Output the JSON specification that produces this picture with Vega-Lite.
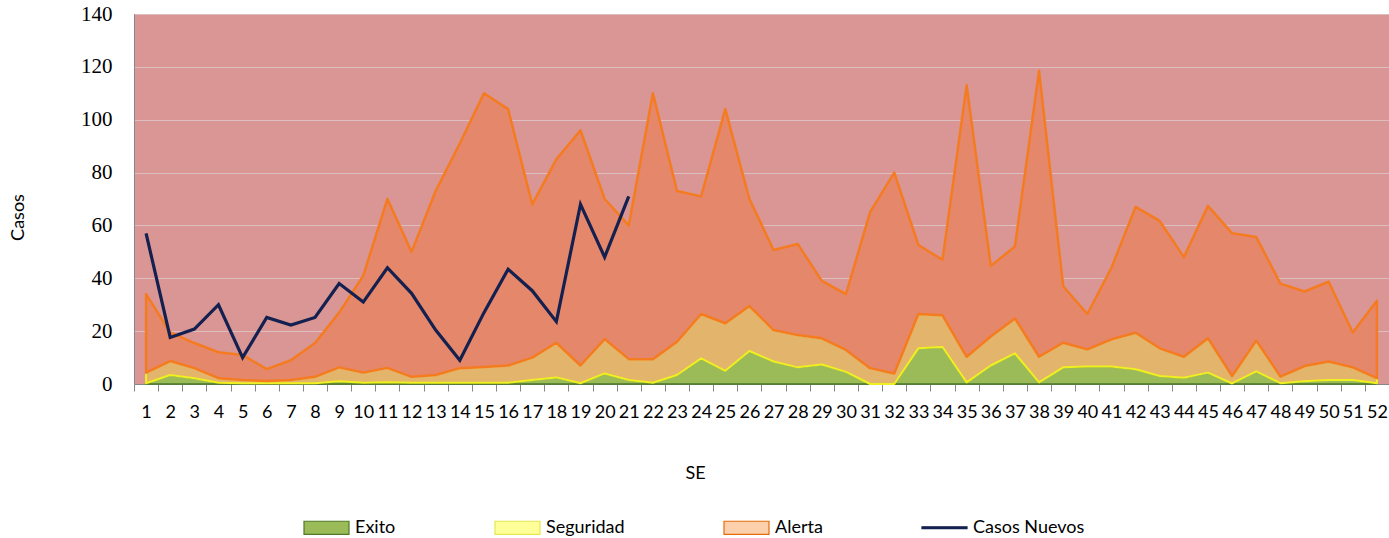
{
  "$schema": "https://vega.github.io/schema/vega-lite/v6.json",
  "width": 1255,
  "height": 370,
  "autosize": "none",
  "padding": {"left": 134, "top": 14, "right": 0, "bottom": 154},
  "background": "white",
  "view": {"fill": "#D99694", "stroke": null},
  "config": {"font": "Lato"},
  "data": {
    "values": [
      {"SE": 1, "exito": 0.3, "seg": 4.3, "ale": 34, "casos": 57},
      {"SE": 2, "exito": 3.4, "seg": 8.7, "ale": 19.5, "casos": 17.6},
      {"SE": 3, "exito": 2.2, "seg": 6, "ale": 15.5, "casos": 20.8},
      {"SE": 4, "exito": 0.5, "seg": 2.2, "ale": 12, "casos": 30},
      {"SE": 5, "exito": 0.3, "seg": 1.5, "ale": 11, "casos": 10},
      {"SE": 6, "exito": 0.3, "seg": 1.1, "ale": 5.6, "casos": 25.2},
      {"SE": 7, "exito": 0.3, "seg": 1.5, "ale": 9, "casos": 22.3},
      {"SE": 8, "exito": 0.3, "seg": 2.7, "ale": 15.5, "casos": 25.2},
      {"SE": 9, "exito": 1, "seg": 6.3, "ale": 27, "casos": 38},
      {"SE": 10, "exito": 0.5, "seg": 4.3, "ale": 41, "casos": 31},
      {"SE": 11, "exito": 0.7, "seg": 6.1, "ale": 70, "casos": 44},
      {"SE": 12, "exito": 0.5, "seg": 2.7, "ale": 50, "casos": 34.3},
      {"SE": 13, "exito": 0.5, "seg": 3.4, "ale": 73, "casos": 20.4},
      {"SE": 14, "exito": 0.5, "seg": 6, "ale": 91, "casos": 9},
      {"SE": 15, "exito": 0.5, "seg": 6.4, "ale": 110, "casos": 27},
      {"SE": 16, "exito": 0.5, "seg": 7, "ale": 104, "casos": 43.4},
      {"SE": 17, "exito": 1.5, "seg": 10, "ale": 68, "casos": 35.3},
      {"SE": 18, "exito": 2.5, "seg": 15.6, "ale": 85, "casos": 23.6},
      {"SE": 19, "exito": 0.3, "seg": 7, "ale": 96, "casos": 68},
      {"SE": 20, "exito": 4, "seg": 17, "ale": 70, "casos": 48},
      {"SE": 21, "exito": 1.5, "seg": 9.4, "ale": 60, "casos": 71},
      {"SE": 22, "exito": 0.5, "seg": 9.4, "ale": 110},
      {"SE": 23, "exito": 3.4, "seg": 16, "ale": 73},
      {"SE": 24, "exito": 9.7, "seg": 26.5, "ale": 71},
      {"SE": 25, "exito": 5, "seg": 23, "ale": 104},
      {"SE": 26, "exito": 12.5, "seg": 29.5, "ale": 70},
      {"SE": 27, "exito": 8.5, "seg": 20.4, "ale": 50.7},
      {"SE": 28, "exito": 6.3, "seg": 18.5, "ale": 53},
      {"SE": 29, "exito": 7.4, "seg": 17.3, "ale": 39},
      {"SE": 30, "exito": 4.6, "seg": 12.9, "ale": 34},
      {"SE": 31, "exito": 0, "seg": 6, "ale": 65},
      {"SE": 32, "exito": 0, "seg": 4, "ale": 80},
      {"SE": 33, "exito": 13.5, "seg": 26.5, "ale": 52.6},
      {"SE": 34, "exito": 14, "seg": 26, "ale": 47},
      {"SE": 35, "exito": 0.6, "seg": 10.3, "ale": 113},
      {"SE": 36, "exito": 7, "seg": 18, "ale": 44.7},
      {"SE": 37, "exito": 11.6, "seg": 24.8, "ale": 52},
      {"SE": 38, "exito": 0.6, "seg": 10.3, "ale": 118.5},
      {"SE": 39, "exito": 6.3, "seg": 15.6, "ale": 37},
      {"SE": 40, "exito": 6.6, "seg": 13.1, "ale": 26.5},
      {"SE": 41, "exito": 6.6, "seg": 16.9, "ale": 44},
      {"SE": 42, "exito": 5.6, "seg": 19.4, "ale": 67},
      {"SE": 43, "exito": 3, "seg": 13.5, "ale": 61.7},
      {"SE": 44, "exito": 2.4, "seg": 10.3, "ale": 48},
      {"SE": 45, "exito": 4.3, "seg": 17.3, "ale": 67.4},
      {"SE": 46, "exito": 0.2, "seg": 3, "ale": 57},
      {"SE": 47, "exito": 4.8, "seg": 16.4, "ale": 55.6},
      {"SE": 48, "exito": 0.3, "seg": 2.8, "ale": 38},
      {"SE": 49, "exito": 1, "seg": 6.8, "ale": 35},
      {"SE": 50, "exito": 1.5, "seg": 8.5, "ale": 38.7},
      {"SE": 51, "exito": 1.5, "seg": 6.3, "ale": 19.5},
      {"SE": 52, "exito": 0.3, "seg": 2.2, "ale": 31.5}
    ]
  },
  "encoding": {
    "x": {
      "field": "SE",
      "type": "ordinal",
      "bandPosition": 0.5,
      "scale": {"type": "band", "paddingInner": 0, "paddingOuter": 0},
      "axis": {
        "title": "SE",
        "titleFont": "Lato",
        "titleFontSize": 18,
        "titleFontWeight": "normal",
        "titleColor": "#000000",
        "titleX": 561,
        "titleY": 89,
        "titleBaseline": "middle",
        "labelAngle": 0,
        "labelFont": "Lato",
        "labelFontSize": 18,
        "labelColor": "#000000",
        "labelPadding": 12,
        "labelOverlap": false,
        "labelBound": false,
        "tickBand": "extent",
        "tickSize": 7,
        "tickColor": "#868686",
        "domainColor": "#868686",
        "grid": false
      }
    }
  },
  "layer": [
    {
      "mark": {"type": "area", "fill": "#9BBB59", "stroke": "#4A7A2A", "strokeWidth": 1.5, "strokeJoin": "round"},
      "encoding": {
        "y": {
          "field": "exito",
          "type": "quantitative",
          "scale": {"domain": [0, 140], "nice": false},
          "axis": {
            "values": [0, 20, 40, 60, 80, 100, 120, 140],
            "title": "Casos",
            "titleFont": "Lato",
            "titleFontSize": 18,
            "titleFontWeight": "normal",
            "titleColor": "#000000",
            "titleX": -116,
            "titleY": 203,
            "titleAngle": -90,
            "titleAlign": "center",
            "titleBaseline": "middle",
            "labelFont": "Liberation Serif",
            "labelFontSize": 21,
            "labelColor": "#000000",
            "labelPadding": 22,
            "ticks": false,
            "domainColor": "#868686",
            "grid": true,
            "gridColor": "#DDBDBD",
            "gridWidth": 1
          }
        }
      }
    },
    {
      "mark": {"type": "area", "fill": "#E3B46B", "stroke": "#F0F020", "strokeWidth": 2, "strokeJoin": "round"},
      "encoding": {
        "y": {"field": "exito", "type": "quantitative"},
        "y2": {"field": "seg"}
      }
    },
    {
      "mark": {"type": "area", "fill": "#E5876A", "stroke": "#F57B20", "strokeWidth": 2.5, "strokeJoin": "round"},
      "encoding": {
        "y": {"field": "seg", "type": "quantitative"},
        "y2": {"field": "ale"}
      }
    },
    {
      "mark": {"type": "line", "color": "#14204F", "strokeWidth": 3.2, "strokeJoin": "miter"},
      "encoding": {
        "y": {"field": "casos", "type": "quantitative"}
      }
    },
    {
      "data": {"values": []},
      "mark": {"type": "point", "filled": true, "opacity": 1, "strokeWidth": 1.2, "size": 2025},
      "encoding": {
        "fill": {
          "field": "serie",
          "type": "nominal",
          "scale": {
            "domain": ["Exito", "Seguridad", "Alerta", "Casos Nuevos"],
            "range": ["#9BBB59", "#FFFF99", "#FCD0AC", "#14204F"]
          },
          "legend": {
            "title": null,
            "orient": "none",
            "direction": "horizontal",
            "legendX": 169,
            "legendY": 490,
            "padding": 0,
            "labelFont": "Lato",
            "labelFontSize": 18,
            "labelColor": "#000000",
            "labelOffset": 5,
            "columnPadding": 96,
            "symbolSize": 2025,
            "symbolStrokeWidth": 1.2,
            "symbolOpacity": 1
          }
        },
        "stroke": {
          "field": "serie",
          "type": "nominal",
          "scale": {
            "domain": ["Exito", "Seguridad", "Alerta", "Casos Nuevos"],
            "range": ["#4F7A28", "#E6E650", "#E46C0A", "#14204F"]
          },
          "legend": {
            "title": null,
            "orient": "none",
            "direction": "horizontal",
            "legendX": 169,
            "legendY": 490,
            "padding": 0,
            "labelFont": "Lato",
            "labelFontSize": 18,
            "labelColor": "#000000",
            "labelOffset": 5,
            "columnPadding": 96,
            "symbolSize": 2025,
            "symbolStrokeWidth": 1.2,
            "symbolOpacity": 1
          }
        },
        "shape": {
          "field": "serie",
          "type": "nominal",
          "scale": {
            "domain": ["Exito", "Seguridad", "Alerta", "Casos Nuevos"],
            "range": ["M-1,-0.29H1V0.29H-1Z", "M-1,-0.29H1V0.29H-1Z", "M-1,-0.29H1V0.29H-1Z", "M-1,-0.04H1V0.04H-1Z"]
          },
          "legend": {
            "title": null,
            "orient": "none",
            "direction": "horizontal",
            "legendX": 169,
            "legendY": 490,
            "padding": 0,
            "labelFont": "Lato",
            "labelFontSize": 18,
            "labelColor": "#000000",
            "labelOffset": 5,
            "columnPadding": 96,
            "symbolSize": 2025,
            "symbolStrokeWidth": 1.2,
            "symbolOpacity": 1
          }
        }
      }
    }
  ]
}
